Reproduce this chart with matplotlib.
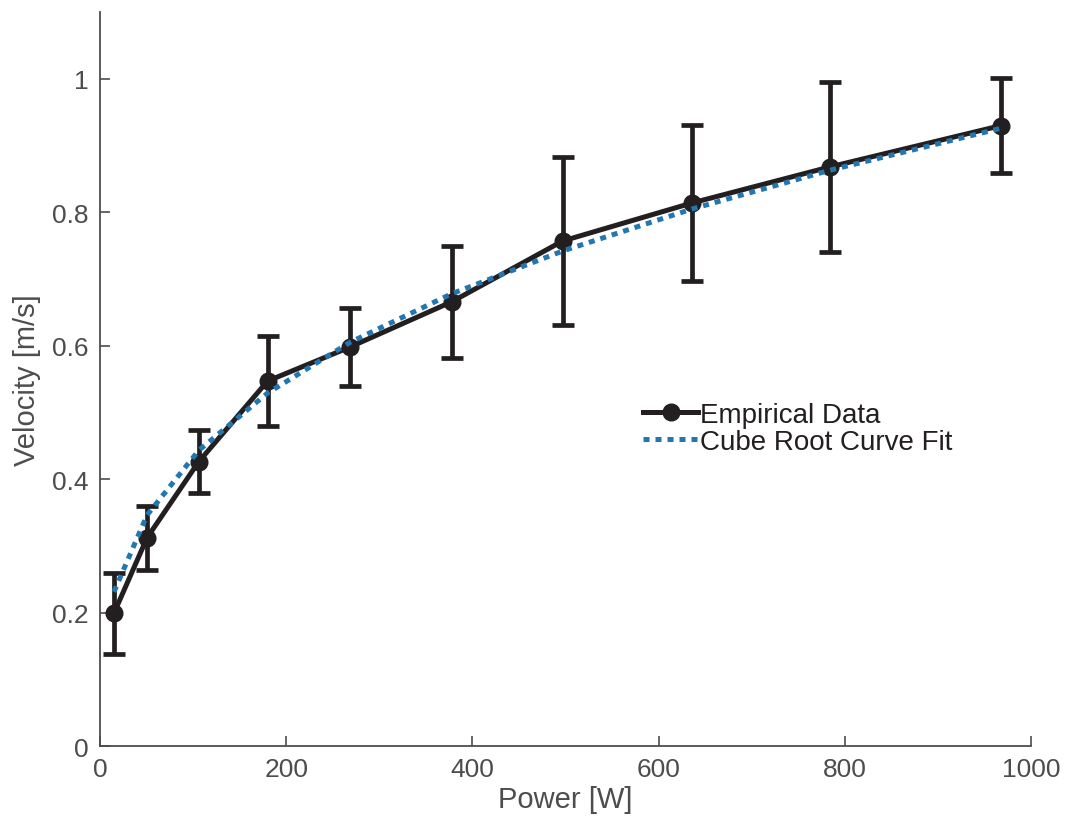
import numpy as np
import matplotlib
matplotlib.use("Agg")
import matplotlib.pyplot as plt

# values
power = [15, 50.5, 106, 180, 268.5, 378, 497, 636, 784, 968]
velocity = [0.199, 0.312, 0.426, 0.547, 0.598, 0.666, 0.757, 0.814, 0.868, 0.930]
vel_err = [0.061, 0.048, 0.047, 0.068, 0.058, 0.084, 0.126, 0.117, 0.128, 0.071]
fit_velocity = [0.231, 0.346, 0.443, 0.529, 0.605, 0.678, 0.742, 0.805, 0.863, 0.926]

x_ticks = [0, 200, 400, 600, 800, 1000]
y_ticks = [0, 0.2, 0.4, 0.6, 0.8, 1]
y_ticklabels = ["0", "0.2", "0.4", "0.6", "0.8", "1"]

plt.rcParams["font.family"] = ["Liberation Sans", "DejaVu Sans"]
dark = "#231f20"
grey = "#4d4d4d"
blue = "#2277b0"

fig = plt.figure(figsize=(10.67, 8.2), dpi=100)
ax = fig.add_axes([0.0937, 0.089, 0.8726, 0.895])

ax.errorbar(power, velocity, yerr=vel_err, fmt="none", ecolor=dark,
            elinewidth=3.4, capsize=8, capthick=3.4, zorder=2)
ax.plot(power, velocity, color=dark, lw=3.6, marker="o", markersize=12,
        label="Empirical Data", zorder=3)
ax.plot(power, fit_velocity, color=blue, lw=3.6, linestyle=(0, (1.2, 1.2)),
        dash_capstyle="butt", label="Cube Root Curve Fit", zorder=4)

ax.set_xlim(0, 1000)
ax.set_ylim(0, 1.1)
ax.set_xticks(x_ticks)
ax.set_yticks(y_ticks)
ax.set_yticklabels(y_ticklabels)
ax.tick_params(direction="in", length=7, width=1.2, colors=grey,
               labelsize=19, pad=8)
for side in ["top", "right"]:
    ax.spines[side].set_visible(False)
for side in ["left", "bottom"]:
    ax.spines[side].set_color(grey)
    ax.spines[side].set_linewidth(1.3)

ax.set_xlabel("Power [W]", fontsize=21, color=grey, labelpad=3)
ax.set_ylabel("Velocity [m/s]", fontsize=21, color=grey, labelpad=8)

leg = ax.legend(loc="center left", bbox_to_anchor=(0.571, 0.433), frameon=False,
                fontsize=20, handlelength=2.0, handletextpad=0.05,
                labelspacing=0.05, borderaxespad=0)
for t in leg.get_texts():
    t.set_color(dark)

fig.savefig("out.png", dpi=100)
